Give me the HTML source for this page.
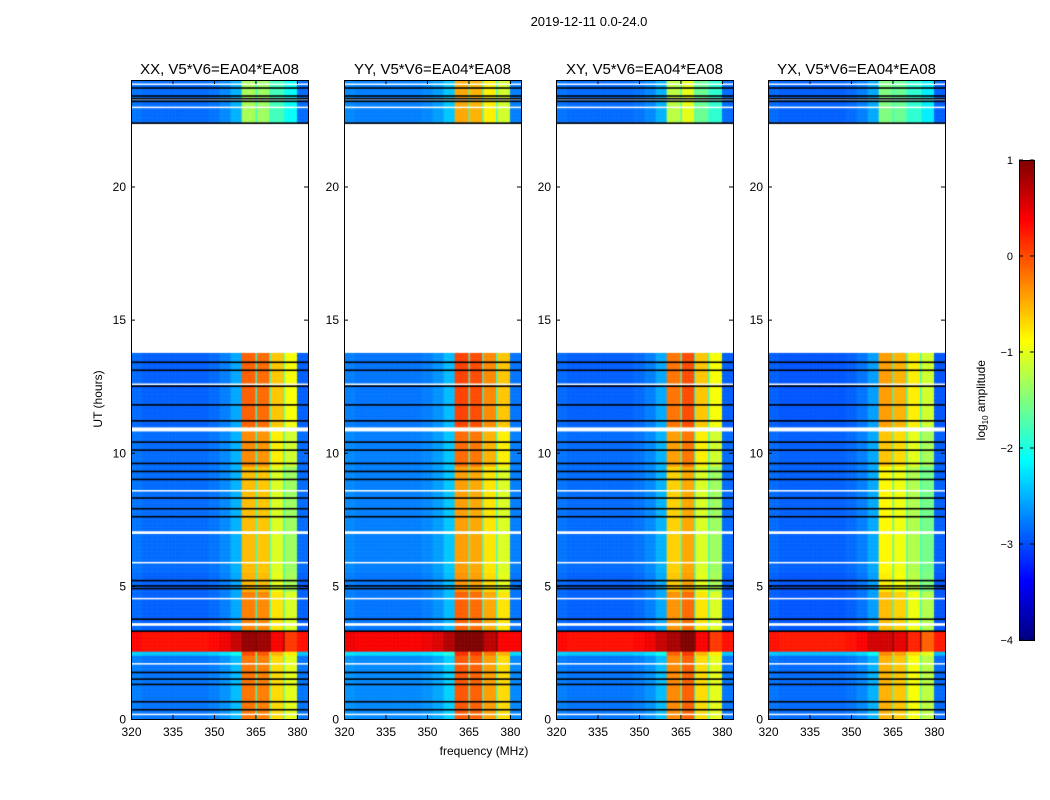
<!DOCTYPE html>
<html><head><meta charset="utf-8">
<style>
body{margin:0;background:#fff;width:1050px;height:800px;position:relative;font-family:"Liberation Sans",sans-serif;overflow:hidden}
.t{position:absolute;white-space:nowrap;color:#000}
canvas{position:absolute;z-index:1}
#ov{z-index:2}
</style></head><body>
<div class="t" style="left:489px;top:14px;width:200px;text-align:center;font-size:13px">2019-12-11 0.0-24.0</div>
<div class="t" style="left:48px;top:392px;width:100px;text-align:center;font-size:12px;transform:rotate(-90deg)">UT (hours)</div>
<div class="t" style="left:384px;top:744px;width:200px;text-align:center;font-size:12px">frequency (MHz)</div>
<div class="t" style="left:912px;top:392px;width:140px;text-align:center;font-size:12px;transform:rotate(-90deg)">log<sub style="font-size:8px">10</sub> amplitude</div>
<svg id="ov" width="1050" height="800" style="position:absolute;left:0;top:0"></svg>
<script>
// ---- data ----
const panelTitles = ['XX, V5*V6=EA04*EA08','YY, V5*V6=EA04*EA08','XY, V5*V6=EA04*EA08','YX, V5*V6=EA04*EA08'];
const panelLefts = [131,344,556,768];
const xTicks = [320,335,350,365,380];
const yTicks = [0,5,10,15,20];
const cbTicks = [1,0,-1,-2,-3,-4];
// band sub-column levels (360-365,365-370,370-375,375-380)
const colLevelsXX = [-0.3,-0.35,-0.8,-1.1];
const colLevelsYY = [-0.15,-0.2,-0.5,-0.8];
const colLevelsXY = [-0.4,-0.2,-0.8,-1.1];
const colLevelsYX = [-0.6,-0.7,-1.0,-1.3];
const panelBgOffset = [0,0.1,0,-0.05];
const topGain = [-1.0,-0.3,-0.8,-0.9];
// background shape per 4 MHz bin from 320
const bgShape = [0.05,0,0,0,0,0,0,0.05,0.15,0.35,0,0,0,0,0,0];
// time bands
const bandStart = [0,2.4,2.55,3.3,4.8,5.5,9.5,11,22.4];
const bandEnd   = [2.4,2.55,3.3,4.8,5.5,9.5,11,13.8,24];
const bandBg    = [-2.8,-2.4,0.3,-2.9,-2.9,-2.85,-2.85,-2.9,-2.85];
const bandGain  = [0.1,0.3,1.2,0.05,-0.2,-0.25,0,0.2,0];
// white gaps (UT hours)
const gapStart = [0.15,2.05,3.5,4.5,5.85,6.95,8.55,10.8,12.55,13.75,22.95,23.25,23.82];
const gapEnd   = [0.2,2.1,3.6,4.55,5.9,7.05,8.6,10.95,12.6,22.35,23.0,23.3,23.87];
// black flagged lines (UT hours)
const blackLines = [0.35,0.65,1.3,1.5,1.75,3.3,3.75,4.9,5.0,5.2,7.6,7.9,8.3,9.0,9.3,9.6,10.1,10.4,11.2,11.8,12.5,13.1,13.4,22.38,23.2,23.3,23.4,23.7];
// ---- scales ----
const TOP=80,BOT=719,W=177;
const yS = t => BOT-(t/24)*(BOT-TOP);
const xS = f => (f-320)/64*W;
function jet(v){
  let x=(v+4)/5; x=Math.max(0,Math.min(1,x));
  const r=Math.max(0,Math.min(1,1.5-Math.abs(4*x-3)));
  const g=Math.max(0,Math.min(1,1.5-Math.abs(4*x-2)));
  const b=Math.max(0,Math.min(1,1.5-Math.abs(4*x-1)));
  return `rgb(${r*255|0},${g*255|0},${b*255|0})`;
}
const colLevels=[colLevelsXX,colLevelsYY,colLevelsXY,colLevelsYX];
const ov=document.getElementById('ov');
const NS='http://www.w3.org/2000/svg';
function mk(tag,attrs,parent){const e=document.createElementNS(NS,tag);for(const k in attrs)e.setAttribute(k,attrs[k]);(parent||ov).appendChild(e);return e;}
function txt(x,y,s,anchor,size){const e=mk('text',{x:x,y:y,'text-anchor':anchor,'font-size':size,'font-family':'Liberation Sans, sans-serif'});e.textContent=s;return e;}
panelLefts.forEach((L,p)=>{
  const c=document.createElement('canvas');
  c.width=W;c.height=BOT-TOP;c.style.left=L+'px';c.style.top=TOP+'px';
  
  
  document.body.appendChild(c);
  const ctx=c.getContext('2d');
  const df=0.5,dt=0.05;
  for(let b=0;b<bandStart.length;b++){
    for(let t=bandStart[b];t<bandEnd[b]-1e-9;t+=dt){
      for(let f=320;f<384;f+=df){
        const fc=f+df/2;let v;
        const gain=(b===bandStart.length-1)?topGain[p]:bandGain[b];
        if(fc>=360&&fc<380){
          const k=Math.floor((fc-360)/5);
          const off=fc-360-5*k;
          v=colLevels[p][k]+gain;
          if(k>0&&off<0.6) v=bandBg[b]+1.0+(b===2?0.5:0);
        } else v=bandBg[b]+bgShape[Math.floor((fc-320)/4)]+panelBgOffset[p];
        ctx.fillStyle=jet(v);
        const y0=yS(t+dt)-TOP,y1=yS(t)-TOP;
        ctx.fillRect(xS(f),y0,xS(f+df)-xS(f)+0.5,y1-y0+0.5);
      }
    }
  }
  ctx.fillStyle='#fff';
  gapStart.forEach((g,i)=>{const y0=yS(gapEnd[i])-TOP,y1=yS(g)-TOP;ctx.fillRect(0,y0,W,Math.max(1.5,y1-y0));});
  ctx.fillStyle='#000';
  blackLines.forEach(t=>{ctx.fillRect(0,yS(t)-TOP-0.75,W,1.6);});
  const g=mk('g',{});
  
  
  mk('rect',{x:L+0.5,y:TOP+0.5,width:W,height:BOT-TOP,fill:'none',stroke:'#000','stroke-width':1},g);
  const tt=txt(L+W/2,74,panelTitles[p],'middle',15);
  
  
  xTicks.forEach(v=>{const x=L+xS(v)+0.5;
    mk('line',{x1:x,x2:x,y1:BOT,y2:BOT-4,stroke:'#000'},g);mk('line',{x1:x,x2:x,y1:TOP,y2:TOP+4,stroke:'#000'},g);
    txt(x,736,String(v),'middle',12);});
  yTicks.forEach(v=>{const y=yS(v)+0.5;
    mk('line',{x1:L,x2:L+4,y1:y,y2:y,stroke:'#000'},g);mk('line',{x1:L+W,x2:L+W-4,y1:y,y2:y,stroke:'#000'},g);
    txt(L-5,y+4,String(v),'end',12);});
});
const cb=document.createElement('canvas');cb.width=15;cb.height=480;cb.style.left='1019px';cb.style.top='160px';


document.body.appendChild(cb);
const cctx=cb.getContext('2d');
for(let i=0;i<480;i++){cctx.fillStyle=jet(1-5*i/480);cctx.fillRect(0,i,15,1);}
mk('rect',{x:1019.5,y:160.5,width:15,height:480,fill:'none',stroke:'#000'});
cbTicks.forEach(v=>{const y=160+(1-v)/5*480;
  mk('line',{x1:1019,x2:1023,y1:y,y2:y,stroke:'#000'});mk('line',{x1:1034,x2:1030,y1:y,y2:y,stroke:'#000'});
  const e=txt(1013,y+4,v<0?'\u2212'+(-v):String(v),'end',11);
  
  });
</script>
</body></html>
